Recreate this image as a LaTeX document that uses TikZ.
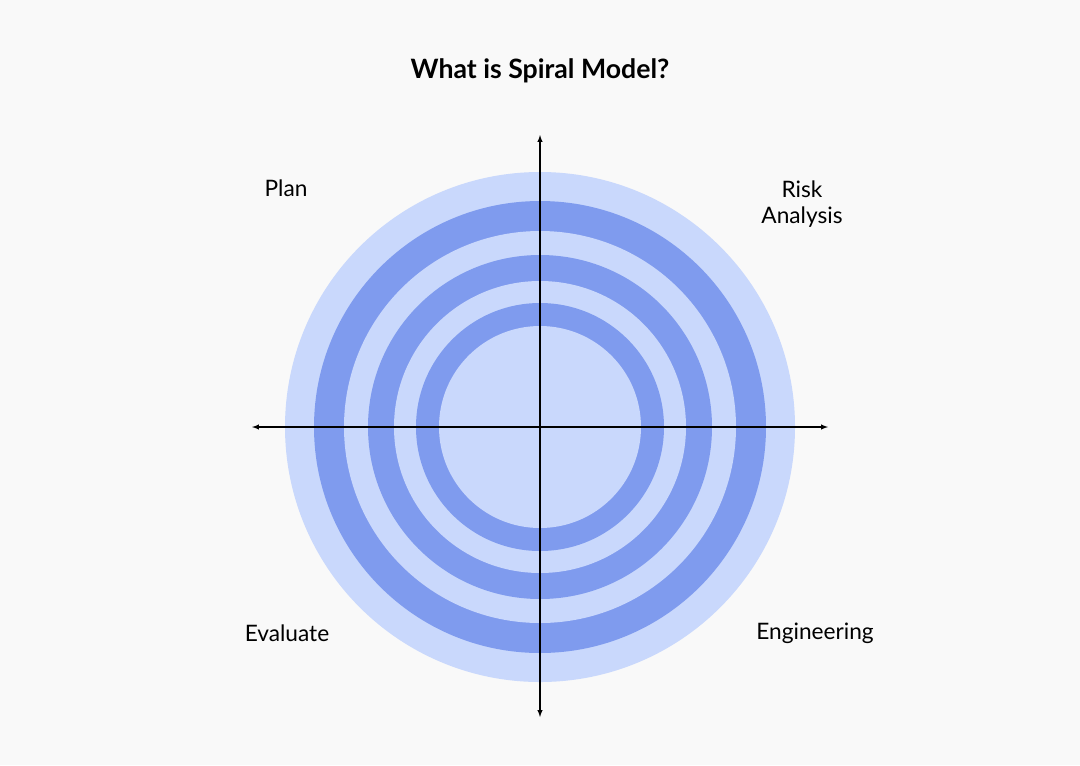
\documentclass[tikz,border=0pt]{standalone}
\usepackage{fontspec}
\setmainfont{Lato}
\definecolor{ringlight}{HTML}{C9D8FC}
\definecolor{ringdark}{HTML}{7F9BEE}
\definecolor{bggray}{HTML}{F9F9F9}
\tikzstyle{label}=[font=\fontsize{17}{20}\selectfont, align=center]
\tikzstyle{axis}=[thick, -latex]

\begin{document}
\begin{tikzpicture}[x=0.75pt,y=-0.75pt]

% BACKGROUND
\fill[bggray] (0,0) rectangle (1080,765);
\useasboundingbox (0,0) rectangle (1080,765);

% TITLE
\node[font=\fontsize{20}{24}\selectfont\bfseries] (title) at (540,71) {What is Spiral Model?};

% RINGS
\coordinate (c) at (540,427);
\fill[ringlight] (c) circle[radius=255];
\fill[ringdark]  (c) circle[radius=226];
\fill[ringlight] (c) circle[radius=196];
\fill[ringdark]  (c) circle[radius=172];
\fill[ringlight] (c) circle[radius=146];
\fill[ringdark]  (c) circle[radius=124];
\fill[ringlight] (c) circle[radius=101];

% AXES
\coordinate (top) at (540,135);
\coordinate (bottom) at (540,717);
\coordinate (left) at (252,427);
\coordinate (right) at (828,427);
\draw[axis] (c) -- (top);
\draw[axis] (c) -- (bottom);
\draw[axis] (c) -- (left);
\draw[axis] (c) -- (right);

% QUADRANTS
\node[label] (plan) at (286,188) {Plan};
\node[label] (risk) at (802,204) {Risk\\Analysis};
\node[label] (eval) at (287,633) {Evaluate};
\node[label] (eng) at (815,633) {Engineering};

\end{tikzpicture}
\end{document}
